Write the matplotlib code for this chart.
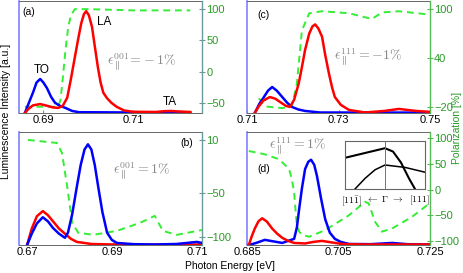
import matplotlib
matplotlib.use("Agg")
import matplotlib.pyplot as plt
import numpy as np

plt.rcParams['font.family'] = ['Liberation Sans', 'DejaVu Sans']
plt.rcParams['mathtext.fontset'] = 'cm'

# ---------------- data ----------------
# panel (a): strain 001 = -1%
a_E_red = [0.6860, 0.6868, 0.6878, 0.6894, 0.6910, 0.6922, 0.6934, 0.6944, 0.6954, 0.6962, 0.6971, 0.6978, 0.6985, 0.6991, 0.6996, 0.7002, 0.7009, 0.7015, 0.7022, 0.7028, 0.7034, 0.7042, 0.7052, 0.7064, 0.7080, 0.7100, 0.7150, 0.7170, 0.7185, 0.7200, 0.7227]
a_I_red = [0.0, 0.04, 0.075, 0.088, 0.07, 0.055, 0.05, 0.07, 0.15, 0.33, 0.55, 0.72, 0.88, 0.97, 1.0, 0.96, 0.845, 0.66, 0.45, 0.30, 0.20, 0.147, 0.10, 0.06, 0.025, 0.012, 0.01, 0.018, 0.02, 0.015, 0.01]
a_E_blue = [0.6860, 0.6868, 0.6878, 0.6886, 0.6894, 0.6901, 0.6909, 0.6918, 0.6927, 0.6938, 0.6950, 0.6965, 0.6980, 0.7227]
a_I_blue = [0.0, 0.09, 0.20, 0.30, 0.334, 0.30, 0.245, 0.16, 0.10, 0.07, 0.05, 0.02, 0.008, 0.002]
a_E_pol = [0.6860, 0.6934, 0.6939, 0.6943, 0.6950, 0.6956, 0.6962, 0.6971, 0.7000, 0.7100, 0.7227]
a_P_pol = [-56, -56, -45, -19, 34, 70, 90, 100, 100, 98, 98]

# panel (c): strain 111 = -1%
c_E_red = [0.7117, 0.7125, 0.7135, 0.7150, 0.7162, 0.7175, 0.7185, 0.7194, 0.7203, 0.7213, 0.7220, 0.7227, 0.7236, 0.7243, 0.7249, 0.7256, 0.7264, 0.7271, 0.7279, 0.7286, 0.7292, 0.7305, 0.7323, 0.7358, 0.7400, 0.7432, 0.7470, 0.7505]
c_I_red = [0.0, 0.06, 0.12, 0.157, 0.14, 0.10, 0.07, 0.06, 0.13, 0.29, 0.45, 0.62, 0.78, 0.85, 0.87, 0.83, 0.75, 0.57, 0.39, 0.25, 0.157, 0.08, 0.03, 0.005, 0.02, 0.04, 0.02, 0.01]
c_E_blue = [0.7117, 0.7127, 0.7137, 0.7146, 0.7155, 0.7165, 0.7177, 0.7188, 0.7198, 0.7212, 0.7227, 0.7260, 0.7505]
c_I_blue = [0.0, 0.09, 0.157, 0.22, 0.255, 0.22, 0.157, 0.10, 0.06, 0.035, 0.02, 0.005, 0.004]
c_E_pol = [0.7126, 0.7140, 0.7177, 0.7198, 0.7209, 0.7220, 0.7236, 0.7264, 0.7323, 0.7373, 0.7395, 0.7432, 0.7505]
c_P_pol = [-9, -19, -21, -19, 9, 74, 95, 97.5, 95, 88, 96, 97.5, 93]

# panel (b): strain 001 = +1%
b_E_blue = [0.6699, 0.6710, 0.6722, 0.6736, 0.6748, 0.6760, 0.6774, 0.6788, 0.6795, 0.6805, 0.6816, 0.6825, 0.6834, 0.6842, 0.6850, 0.6858, 0.6866, 0.6876, 0.6887, 0.6898, 0.6910, 0.6950, 0.7000, 0.7050, 0.7098, 0.7110]
b_I_blue = [0.0, 0.11, 0.21, 0.27, 0.23, 0.165, 0.11, 0.07, 0.12, 0.30, 0.57, 0.78, 0.93, 0.98, 0.93, 0.78, 0.57, 0.32, 0.12, 0.05, 0.02, 0.008, 0.005, 0.01, 0.03, 0.02]
b_E_red = [0.6699, 0.6710, 0.6722, 0.6736, 0.6748, 0.6760, 0.6774, 0.6788, 0.6802, 0.6816, 0.6850, 0.6900, 0.7000, 0.7110]
b_I_red = [0.0, 0.16, 0.28, 0.33, 0.29, 0.23, 0.16, 0.11, 0.06, 0.03, 0.01, 0.005, 0.004, 0.004]
b_E_pol = [0.6701, 0.6769, 0.6781, 0.6793, 0.6805, 0.6819, 0.6854, 0.6910, 0.6964, 0.6999, 0.7018, 0.7051, 0.7110]
b_P_pol = [10, 6.6, -4.7, -42, -84, -95, -97.5, -93, -84, -76, -93, -97.5, -92]

# panel (d): strain 111 = +1%
d_E_blue = [0.6854, 0.6870, 0.6889, 0.6927, 0.6953, 0.6959, 0.6964, 0.6970, 0.6977, 0.6984, 0.6990, 0.6997, 0.7003, 0.7012, 0.7021, 0.7031, 0.7042, 0.7055, 0.7073, 0.7120, 0.7167, 0.7200, 0.7248]
d_I_blue = [0.0, 0.02, 0.05, 0.02, 0.06, 0.17, 0.35, 0.55, 0.74, 0.81, 0.83, 0.78, 0.67, 0.45, 0.25, 0.12, 0.06, 0.03, 0.01, 0.008, 0.02, 0.008, 0.005]
d_E_red = [0.6854, 0.6860, 0.6867, 0.6875, 0.6883, 0.6893, 0.6905, 0.6916, 0.6927, 0.6940, 0.6953, 0.6977, 0.6995, 0.7014, 0.7035, 0.7058, 0.7100, 0.7248]
d_I_red = [0.0, 0.08, 0.16, 0.23, 0.26, 0.23, 0.16, 0.11, 0.07, 0.04, 0.02, 0.015, 0.03, 0.04, 0.025, 0.01, 0.005, 0.005]
d_E_pol = [0.6854, 0.6889, 0.6920, 0.6942, 0.6948, 0.6953, 0.6956, 0.6959, 0.6964, 0.6970, 0.6986, 0.7021, 0.7073, 0.7108, 0.7116, 0.7130, 0.7145, 0.7167, 0.7211, 0.7248]
d_P_pol = [75, 68.6, 59, 40, 20, -5, -40, -69, -82, -88, -92, -79, -50, -24, -27, -63, -82, -76, -53, -27.5]

# inset: band structure near Gamma
ins_k_up = [-1.0, -0.5, 0.0, 0.2, 0.4, 0.6, 0.75]
ins_E_up = [0.65, 0.75, 0.85, 0.78, 0.55, 0.22, 0.0]
ins_k_lo = [-0.75, -0.5, -0.25, 0.0, 0.5, 1.0]
ins_E_lo = [0.0, 0.22, 0.40, 0.50, 0.45, 0.35]
ins_labels = [r'$[11\bar{1}]$', r'$\leftarrow\ \Gamma\ \rightarrow$', r'$[111]$']

# ---------------- figure ----------------
W, H = 464, 273
fig = plt.figure(figsize=(W / 100, H / 100), dpi=100)

def fr(x0, x1, y0, y1):
    return [x0 / W, 1 - y1 / H, (x1 - x0) / W, (y1 - y0) / H]

GREEN_TXT = '#2a9a2a'
BLUE = '#0000ff'
RED = '#ff0000'
LIME = '#33ee33'

panels = [
    dict(rect=fr(19, 202, 1, 113), xlim=(0.6847, 0.7253), xt=[0.69, 0.71], xtl=['0.69', '0.71'],
         ylim2=(-66, 113), yt2=[-50, 0, 50, 100], rcol='#6a9a9a',
         red=(a_E_red, a_I_red), blue=(a_E_blue, a_I_blue), pol=(a_E_pol, a_P_pol),
         order='bluefirst'),
    dict(rect=fr(247, 430, 1, 113), xlim=(0.71, 0.75), xt=[0.71, 0.73, 0.75], xtl=['0.71', '0.73', '0.75'],
         ylim2=(-27, 110), yt2=[-20, 40, 100], rcol='#55bb55',
         red=(c_E_red, c_I_red), blue=(c_E_blue, c_I_blue), pol=(c_E_pol, c_P_pol),
         order='bluefirst'),
    dict(rect=fr(19, 202, 132, 245), xlim=(0.668, 0.711), xt=[0.67, 0.69, 0.71], xtl=['0.67', '0.69', '0.71'],
         ylim2=(-109, 19), yt2=[-100, -50, 10], rcol='#6a9a9a',
         red=(b_E_red, b_I_red), blue=(b_E_blue, b_I_blue), pol=(b_E_pol, b_P_pol),
         order='redfirst'),
    dict(rect=fr(247, 430, 132, 245), xlim=(0.685, 0.725), xt=[0.685, 0.705, 0.725], xtl=['0.685', '0.705', '0.725'],
         ylim2=(-108, 112), yt2=[-100, -50, 0, 50, 100], rcol='#55bb55',
         red=(d_E_red, d_I_red), blue=(d_E_blue, d_I_blue), pol=(d_E_pol, d_P_pol),
         order='bluefirst'),
]

axes = []
for p in panels:
    ax = fig.add_axes(p['rect'])
    ax.set_xlim(*p['xlim'])
    ax.set_ylim(0, 1.1)
    ax.set_yticks([])
    ax.set_xticks(p['xt'])
    ax.set_xticklabels(p['xtl'])
    ax.tick_params(axis='x', direction='in', length=2.5, labelsize=8, pad=1.5, color='#888888')
    ax.spines['left'].set_color('#8080ff')
    ax.spines['left'].set_linewidth(1.2)
    for s in ['top', 'bottom']:
        ax.spines[s].set_color('#666666')
        ax.spines[s].set_linewidth(0.7)
    ax.spines['right'].set_visible(False)
    ax.patch.set_alpha(0)
    ax2 = ax.twinx()
    ax2.set_ylim(*p['ylim2'])
    ax2.set_yticks(p['yt2'])
    ax2.tick_params(axis='y', direction='inout', length=4, labelsize=8, pad=1,
                    colors=GREEN_TXT, color=p['rcol'])
    ax2.spines['right'].set_color(p['rcol'])
    ax2.spines['right'].set_linewidth(1.0)
    for s in ['top', 'bottom', 'left']:
        ax2.spines[s].set_visible(False)
    ax2.plot(p['pol'][0], p['pol'][1], color=LIME, lw=1.4, ls=(0, (3.5, 2.5)), zorder=1)
    ax3 = ax.twinx()
    ax3.set_ylim(0, 1.1)
    ax3.axis('off')
    if p['order'] == 'bluefirst':
        ax3.plot(*p['blue'], color=BLUE, lw=1.8, solid_joinstyle='round')
        ax3.plot(*p['red'], color=RED, lw=1.8, solid_joinstyle='round')
    else:
        ax3.plot(*p['red'], color=RED, lw=1.8, solid_joinstyle='round')
        ax3.plot(*p['blue'], color=BLUE, lw=1.8, solid_joinstyle='round')
    axes.append((ax, ax3))

GRAY = '#888888'
(axa, a3), (axc, c3), (axb, b3), (axd, d3) = axes
axa.text(0.02, 0.90, '(a)', transform=axa.transAxes, fontsize=7.5, va='center', ha='left')
axc.text(0.055, 0.875, '(c)', transform=axc.transAxes, fontsize=7.5, va='center', ha='left')
axb.text(0.88, 0.90, '(b)', transform=axb.transAxes, fontsize=7.5, va='center', ha='left')
axd.text(0.055, 0.67, '(d)', transform=axd.transAxes, fontsize=7.5, va='center', ha='left')

axa.text(0.67, 0.46, r'$\epsilon_{\parallel}^{001}\!=\!-1\%$', transform=axa.transAxes, fontsize=10, color=GRAY, ha='center', va='center')
axc.text(0.475, 0.50, r'$\epsilon_{\parallel}^{111}=-1\%$', transform=axc.transAxes, fontsize=10, color=GRAY, ha='left', va='center')
axb.text(0.67, 0.655, r'$\epsilon_{\parallel}^{001}=1\%$', transform=axb.transAxes, fontsize=10, color=GRAY, ha='center', va='center')
axd.text(0.12, 0.88, r'$\epsilon_{\parallel}^{111}=1\%$', transform=axd.transAxes, fontsize=10, color=GRAY, ha='left', va='center')

axa.text(0.125, 0.38, 'TO', transform=axa.transAxes, fontsize=8.5, ha='center', va='center')
axa.text(0.465, 0.81, 'LA', transform=axa.transAxes, fontsize=8.5, ha='center', va='center')
axa.text(0.825, 0.10, 'TA', transform=axa.transAxes, fontsize=8.5, ha='center', va='center')

# inset
ins = fig.add_axes(fr(345, 425, 141, 189))
ins.plot(ins_k_up, ins_E_up, color='black', lw=1.5)
ins.plot(ins_k_lo, ins_E_lo, color='black', lw=1.1)
ins.axvline(0, color='#6060ff', lw=0.7)
ins.set_xlim(-1, 1)
ins.set_ylim(0, 1)
ins.set_xticks([])
ins.set_yticks([])
for s in ins.spines.values():
    s.set_color('#666666')
    s.set_linewidth(0.8)
for xx, lab in zip([-0.85, 0.0, 0.85], ins_labels):
    ins.text(xx, -0.1, lab, transform=ins.transData, fontsize=7, ha='center', va='top')

fig.text(0.012, 0.593, 'Luminescence Intensity [a.u.]', rotation=90, fontsize=7.5, ha='center', va='center')
fig.text(0.985, 0.53, 'Polarization [%]', rotation=90, fontsize=7.5, ha='center', va='center', color=GREEN_TXT)
fig.text(0.496, 0.026, 'Photon Energy [eV]', fontsize=7.5, ha='center', va='center')

fig.savefig('out.png', dpi=100)
